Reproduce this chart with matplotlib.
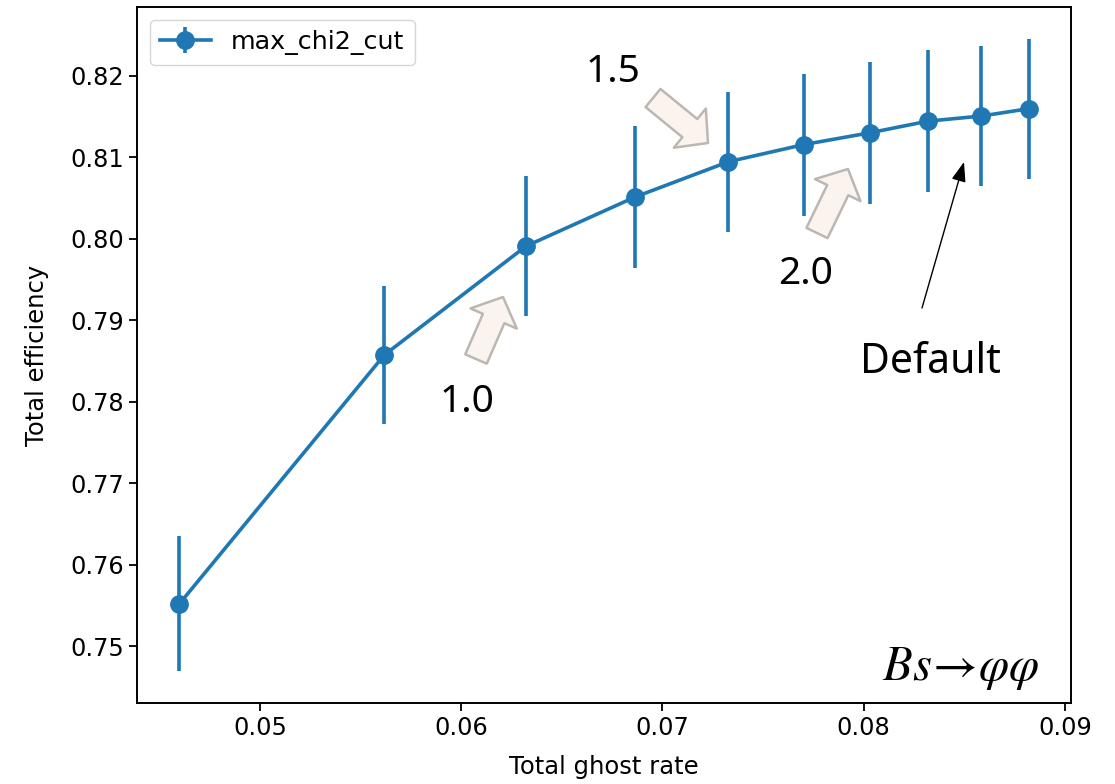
import numpy as np
import matplotlib
matplotlib.use('Agg')
import matplotlib.pyplot as plt

# ghost rate vs efficiency for the max_chi2_cut scan
ghost_rate = [0.04600, 0.05618, 0.06322, 0.06865, 0.07328, 0.07702, 0.08029, 0.08320, 0.08583, 0.08819]
efficiency = [0.75524, 0.78576, 0.79911, 0.80515, 0.80947, 0.81157, 0.81301, 0.81445, 0.81507, 0.81597]
eff_err = [0.0083, 0.0085, 0.0086, 0.0087, 0.0086, 0.0087, 0.0087, 0.0087, 0.0086, 0.0086]

# cut values written next to the curve, with block arrows (figure pixels, origin top-left)
cut_labels = ['1.0', '1.5', '2.0']
label_pos = [(467, 402), (613, 72), (806, 274)]
arrow_tail = [(476, 359), (653, 98), (817, 233)]
arrow_tip = [(503, 297), (708, 143), (848, 169)]

H = 784
fs = 17.3

fig = plt.figure(figsize=(11.15, 7.84), dpi=100)
ax = fig.add_axes([137/1115, 81/784, (1071-137)/1115, (703-7)/784])

ax.errorbar(ghost_rate, efficiency, yerr=eff_err, fmt='-o', color='#1f77b4',
            lw=2.6, elinewidth=2.6, markersize=12.5, label='max_chi2_cut')

ax.set_xlabel('Total ghost rate', fontsize=17.5, labelpad=11)
ax.set_ylabel('Total efficiency', fontsize=17.5, labelpad=15)
ax.tick_params(labelsize=fs, length=6, width=1.3)
for s in ax.spines.values():
    s.set_linewidth(1.4)
ax.set_xticks([0.05, 0.06, 0.07, 0.08, 0.09])
ax.legend(loc='upper left', fontsize=18.3)

txt_font = 'Noto Sans'
for lab, (px, py) in zip(cut_labels, label_pos):
    fig.text(px/1115, (H-py)/H, lab, fontsize=28, family=txt_font,
             ha='center', va='center')

for (tx, ty), (hx, hy) in zip(arrow_tail, arrow_tip):
    ax.annotate('', xy=(hx, H-hy), xycoords='figure pixels',
                xytext=(tx, H-ty), textcoords='figure pixels',
                arrowprops=dict(arrowstyle='simple,head_length=1.3,head_width=2.8,tail_width=1.3',
                                mutation_scale=13, fc='#faf3ee', ec='#bdb7b2', lw=1.8,
                                shrinkA=0, shrinkB=0))

ax.annotate('', xy=(964, H-162), xycoords='figure pixels',
            xytext=(922, H-308), textcoords='figure pixels',
            arrowprops=dict(arrowstyle='-|>,head_length=0.6,head_width=0.22',
                            mutation_scale=20, color='black', lw=1.0,
                            shrinkA=0, shrinkB=0))
fig.text(930/1115, (H-362)/H, 'Default', fontsize=29.5, family=txt_font,
         ha='center', va='center')

plt.rcParams['mathtext.fontset'] = 'stix'
fig.text(961/1115, (H-668)/H, r'$Bs\!\rightarrow\!\varphi\varphi$', fontsize=35,
         ha='center', va='center')

fig.savefig('out.png', dpi=100)
